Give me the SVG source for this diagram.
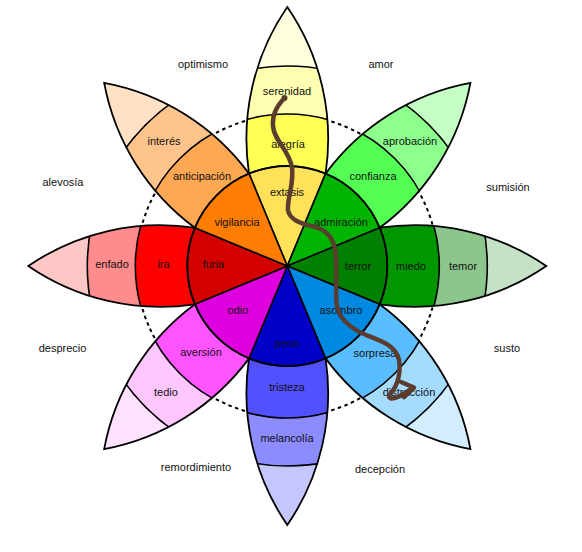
<svg xmlns="http://www.w3.org/2000/svg" xmlns:xlink="http://www.w3.org/1999/xlink" width="582" height="552" viewBox="0 0 582 552">
<style>
text{font-family:"Liberation Sans",Arial,sans-serif;font-size:11px;fill:#111;text-anchor:middle}
.ln{stroke:#000;stroke-width:1.6}
.ol{fill:none;stroke:#000;stroke-width:1.8}
.dash{fill:none;stroke:#000;stroke-width:2;stroke-dasharray:3.5 3.5}
.path{fill:none;stroke:#5a3d2e;stroke-width:4.5;stroke-linecap:round;stroke-linejoin:round}
</style>
<defs>
<path id="lens" d="M92.39,-38.27 A233,233 0 0 1 259,0 A233,233 0 0 1 92.39,38.27 Z"/>
<path id="sector" d="M0,0 L92.39,-38.27 A100,100 0 0 1 92.39,38.27 Z"/>
<clipPath id="cl" clipPathUnits="userSpaceOnUse"><path d="M92.39,-38.27 A233,233 0 0 1 259,0 A233,233 0 0 1 92.39,38.27 Z"/></clipPath>
</defs>
<rect width="582" height="552" fill="#fff"/>
<circle class="dash" cx="287.3" cy="266" r="151"/>

<g id="petal-alegria">
<g transform="translate(287.3,266) rotate(-90)">
<use xlink:href="#lens" fill="#ffffe0"/>
<g clip-path="url(#cl)"><circle r="200" fill="#ffffb1" class="ln"/><circle r="152" fill="#ffff54" class="ln"/></g>
<use xlink:href="#lens" class="ol"/>
<use xlink:href="#sector" fill="#ffe15a" class="ln"/>
</g>
<text x="287" y="94.5">serenidad</text><text x="288" y="147.5">alegría</text><text x="287" y="195.5">extasis</text>
</g>

<g id="petal-confianza">
<g transform="translate(287.3,266) rotate(-45)">
<use xlink:href="#lens" fill="#c6ffc6"/>
<g clip-path="url(#cl)"><circle r="200" fill="#8cff8c" class="ln"/><circle r="152" fill="#54ff54" class="ln"/></g>
<use xlink:href="#lens" class="ol"/>
<use xlink:href="#sector" fill="#00b400" class="ln"/>
</g>
<text x="410" y="145">aprobación</text><text x="373" y="180">confianza</text><text x="341" y="225.5">admiración</text>
</g>

<g id="petal-miedo">
<g transform="translate(287.3,266)">
<use xlink:href="#lens" fill="#c6e2c6"/>
<g clip-path="url(#cl)"><circle r="200" fill="#8cc68c" class="ln"/><circle r="152" fill="#009600" class="ln"/></g>
<use xlink:href="#lens" class="ol"/>
<use xlink:href="#sector" fill="#008000" class="ln"/>
</g>
<text x="358" y="270">terror</text><text x="411" y="270">miedo</text><text x="463" y="270">temor</text>
</g>

<g id="petal-sorpresa">
<g transform="translate(287.3,266) rotate(45)">
<use xlink:href="#lens" fill="#d2edff"/>
<g clip-path="url(#cl)"><circle r="200" fill="#a5dbff" class="ln"/><circle r="152" fill="#59bdff" class="ln"/></g>
<use xlink:href="#lens" class="ol"/>
<use xlink:href="#sector" fill="#0089e0" class="ln"/>
</g>
<text x="341" y="314">asombro</text><text x="375" y="356.5">sorpresa</text><text x="409" y="395.5">distracción</text>
</g>

<g id="petal-tristeza">
<g transform="translate(287.3,266) rotate(90)">
<use xlink:href="#lens" fill="#c6c6ff"/>
<g clip-path="url(#cl)"><circle r="200" fill="#8c8cff" class="ln"/><circle r="152" fill="#5151ff" class="ln"/></g>
<use xlink:href="#lens" class="ol"/>
<use xlink:href="#sector" fill="#0000c8" class="ln"/>
</g>
<text x="287" y="346.5">pena</text><text x="287" y="391">tristeza</text><text x="287" y="442">melancolía</text>
</g>

<g id="petal-aversion">
<g transform="translate(287.3,266) rotate(135)">
<use xlink:href="#lens" fill="#ffe2ff"/>
<g clip-path="url(#cl)"><circle r="200" fill="#ffc6ff" class="ln"/><circle r="152" fill="#ff54ff" class="ln"/></g>
<use xlink:href="#lens" class="ol"/>
<use xlink:href="#sector" fill="#de00de" class="ln"/>
</g>
<text x="238" y="314">odio</text><text x="201" y="356">aversión</text><text x="166" y="395.5">tedio</text>
</g>

<g id="petal-ira">
<g transform="translate(287.3,266) rotate(180)">
<use xlink:href="#lens" fill="#ffc6c6"/>
<g clip-path="url(#cl)"><circle r="200" fill="#ff8c8c" class="ln"/><circle r="152" fill="#ff0000" class="ln"/></g>
<use xlink:href="#lens" class="ol"/>
<use xlink:href="#sector" fill="#d40000" class="ln"/>
</g>
<text x="213.5" y="268">furia</text><text x="163.5" y="268">ira</text><text x="112" y="268">enfado</text>
</g>

<g id="petal-anticipacion">
<g transform="translate(287.3,266) rotate(-135)">
<use xlink:href="#lens" fill="#ffe2c6"/>
<g clip-path="url(#cl)"><circle r="200" fill="#ffc48c" class="ln"/><circle r="152" fill="#ffa854" class="ln"/></g>
<use xlink:href="#lens" class="ol"/>
<use xlink:href="#sector" fill="#ff7d00" class="ln"/>
</g>
<text x="237" y="225.5">vigilancia</text><text x="202" y="180">anticipación</text><text x="164" y="145">interés</text>
</g>

<circle cx="287.3" cy="266" r="100" class="ol"/>

<g id="dyads">
<text x="203" y="68">optimismo</text>
<text x="381" y="68">amor</text>
<text x="63" y="186">alevosía</text>
<text x="508" y="190.5">sumisión</text>
<text x="62.5" y="352">desprecio</text>
<text x="507" y="352">susto</text>
<text x="196" y="470.5">remordimiento</text>
<text x="380" y="472.5">decepción</text>
</g>

<g id="connectors">
<circle cx="284.5" cy="98" r="3" fill="#5a3d2e"/>
<path class="path" d="M284.5,98 C278,105 272,113 273,126 C274,141 290,151 292,168 C294,185 287,198 288,210 C290,222 305,224 318,228 C332,233 336,245 336,260 C337,276 335,294 337,306 C339,319 350,328 366,335 C382,341 396,346 399,360 C401,372 398,385 391,393 C386,399 392,400 400,396 L413,388"/>
<path class="path" d="M401,382 L414,387.5 L404,397"/>
</g>
</svg>
